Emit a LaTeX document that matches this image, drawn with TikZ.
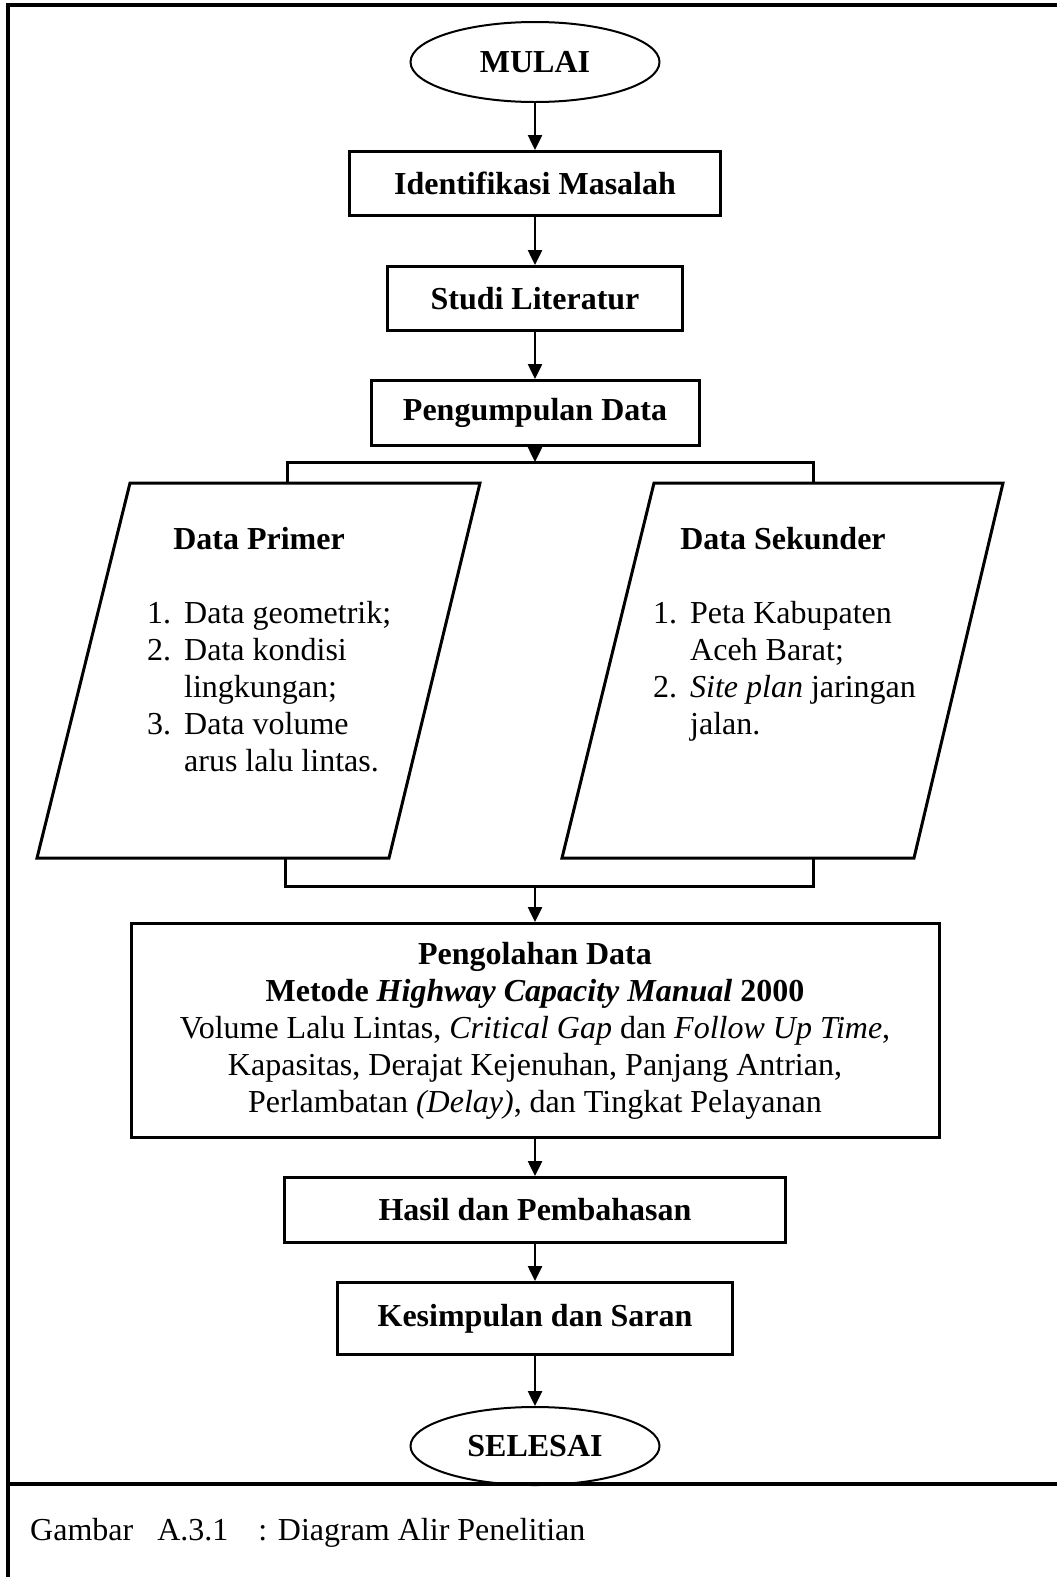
\documentclass[tikz,border=0pt]{standalone}
\usepackage{fontspec}
\setmainfont{Liberation Serif}
\usetikzlibrary{positioning,shapes.geometric,arrows.meta}

\newcommand{\butir}[1]{\makebox[37pt][l]{#1}}

\tikzset{
  huruf/.style={font=\fontsize{32}{37}\selectfont},
  tebal/.style={font=\fontsize{32}{37}\selectfont\bfseries},
  proses/.style={draw, tebal, line width=3pt, minimum height=64pt, inner sep=0pt},
  terminal/.style={draw, ellipse, tebal, line width=2pt, minimum width=249pt, minimum height=80pt, inner sep=0pt},
  data/.style={draw, line width=3pt, line join=miter},
  panah/.style={line width=2.5pt, -{Triangle[length=15pt,width=14pt]}},
  garis/.style={line width=3pt},
}

\begin{document}
\begin{tikzpicture}[x=1pt,y=1pt]
\useasboundingbox (0,0) rectangle (1057,-1577);
% bingkai
\draw[line width=4pt] (8,-1577) -- (8,-5) -- (1057,-5);
\draw[line width=4pt] (8,-1484) -- (1057,-1484);

\node[terminal] (mulai) at (535,-62) {MULAI};
\node[proses, minimum width=371pt] (masalah) [below=47pt of mulai] {Identifikasi Masalah};
\node[proses, minimum width=295pt] (studi) [below=48pt of masalah] {Studi Literatur};
\node[proses, minimum width=328pt, minimum height=65pt] (kumpul) [below=47pt of studi] {Pengumpulan Data};

% data primer dan sekunder (jajaran genjang)
\coordinate (primerNW) at (130,-483);
\coordinate (primerNE) at (480,-483);
\coordinate (primerSE) at (389,-858);
\coordinate (primerSW) at (37,-858);
\coordinate (sekunderNW) at (654,-483);
\coordinate (sekunderNE) at (1003,-483);
\coordinate (sekunderSE) at (914,-858);
\coordinate (sekunderSW) at (562,-858);
\draw[data] (primerNW) -- (primerNE) -- (primerSE) -- (primerSW) -- cycle;
\draw[data] (sekunderNW) -- (sekunderNE) -- (sekunderSE) -- (sekunderSW) -- cycle;

\node[tebal, anchor=base] (jprimer) at (259,-549) {Data Primer};
\node[tebal, anchor=base] (jsekunder) at (783,-549) {Data Sekunder};
% baris terakhir sebagai garis dasar
\node[huruf, align=left, anchor=base west, inner sep=0pt] (lprimer) at (147,-771)
  {\butir{1.}Data geometrik;\\\butir{2.}Data kondisi\\\butir{}lingkungan;\\\butir{3.}Data volume\\\butir{}arus lalu lintas.};
\node[huruf, align=left, anchor=base west, inner sep=0pt] (lsekunder) at (653,-734)
  {\butir{1.}Peta Kabupaten\\\butir{}Aceh Barat;\\\butir{2.}\textit{Site plan} jaringan\\\butir{}jalan.};

\coordinate (cabang) at (535,-462);
\coordinate (cabangL) at (287,-462);
\coordinate (cabangR) at (813,-462);
\coordinate (gabung) at (535,-886);
\coordinate (gabungL) at (285,-886);
\coordinate (gabungR) at (813,-886);

\node[proses, huruf, minimum width=808pt, minimum height=214pt, align=center] (olah) [below=36pt of gabung]
  {\textbf{Pengolahan Data}\\
   \textbf{Metode \textit{Highway Capacity Manual} 2000}\\
   Volume Lalu Lintas, \textit{Critical Gap} dan \textit{Follow Up Time},\\
   Kapasitas, Derajat Kejenuhan, Panjang Antrian,\\
   Perlambatan \textit{(Delay)}, dan Tingkat Pelayanan};
\node[proses, minimum width=501pt, minimum height=65pt] (hasil) [below=37pt of olah] {Hasil dan Pembahasan};
\node[proses, minimum width=395pt, minimum height=72pt] (simpul) [below=37pt of hasil] {Kesimpulan dan Saran};
\node[terminal, minimum height=78pt] (selesai) [below=50pt of simpul] {SELESAI};

\draw[panah] (mulai) -- (masalah);
\draw[panah] (masalah) -- (studi);
\draw[panah] (studi) -- (kumpul);
\draw[panah] (kumpul) -- (cabang);
\draw[garis] (cabangL |- primerNW) -- (cabangL) -- (cabangR) -- (cabangR |- sekunderNW);
\draw[garis] (gabungL |- primerSW) -- (gabungL) -- (gabungR) -- (gabungR |- sekunderSW);
\draw[panah] (gabung) -- (olah);
\draw[panah] (olah) -- (hasil);
\draw[panah] (hasil) -- (simpul);
\draw[panah] (simpul) -- (selesai);

\node[huruf, anchor=base west, inner sep=0pt] (ket) at (30,-1540)
  {Gambar\hspace{24pt}A.3.1\hspace{30pt}: Diagram Alir Penelitian};
\end{tikzpicture}
\end{document}
